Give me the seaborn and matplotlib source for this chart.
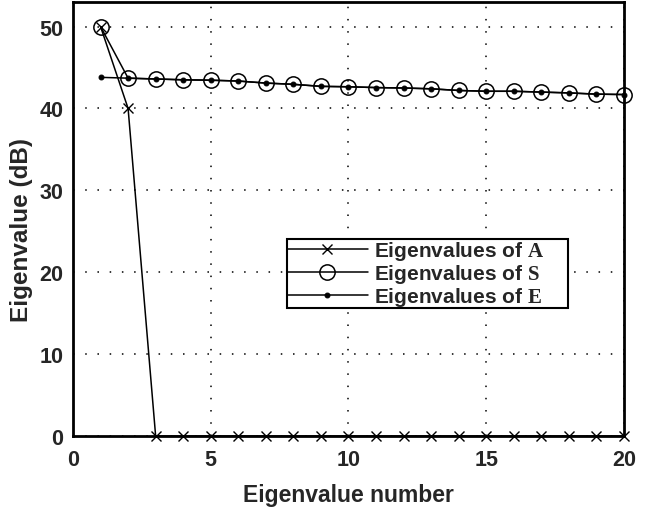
import numpy as np
import pandas as pd
import matplotlib
matplotlib.use("Agg")
import matplotlib.pyplot as plt
import seaborn as sns

x_vals = list(range(1, 21))
eig_A = [50, 40] + [0] * 18
eig_S = [50, 43.7, 43.6, 43.5, 43.45, 43.35, 43.1, 42.95, 42.7, 42.65,
         42.55, 42.5, 42.4, 42.2, 42.1, 42.1, 42.0, 41.9, 41.75, 41.7]
eig_E = [43.8, 43.7, 43.6, 43.5, 43.45, 43.35, 43.1, 42.95, 42.7, 42.65,
         42.55, 42.5, 42.4, 42.2, 42.1, 42.1, 42.0, 41.9, 41.75, 41.7]
labels = [r"Eigenvalues of $\mathbf{A}$     ", r"Eigenvalues of $\mathbf{S}$     ",
          r"Eigenvalues of $\mathbf{E}$     "]
xticks = [0, 5, 10, 15, 20]
yticks = [0, 10, 20, 30, 40, 50]

sns.set_style("white")
plt.rcParams["font.family"] = ["Liberation Sans", "DejaVu Sans"]
plt.rcParams["mathtext.fontset"] = "custom"
plt.rcParams["mathtext.bf"] = "Liberation Serif:bold"
plt.rcParams["mathtext.rm"] = "Liberation Serif"

fig = plt.figure(figsize=(6.56, 5.10), dpi=100)
ax = fig.add_axes([0.1113, 0.1431, 0.8397, 0.851])

df = pd.DataFrame({"x": x_vals, "A": eig_A, "S": eig_S, "E": eig_E})

sns.lineplot(data=df, x="x", y="A", ax=ax, color="black", lw=1.1,
             marker="x", markersize=7, markeredgewidth=1.0,
             markeredgecolor="black", label=labels[0], clip_on=False,
             zorder=5)
sns.lineplot(data=df, x="x", y="S", ax=ax, color="black", lw=1.1,
             marker="o", markersize=11, markerfacecolor="none",
             markeredgecolor="black", markeredgewidth=1.1, label=labels[1],
             clip_on=False, zorder=5)
sns.lineplot(data=df, x="x", y="E", ax=ax, color="black", lw=1.1,
             marker="o", markersize=3.5, markerfacecolor="black",
             markeredgecolor="black", label=labels[2], clip_on=False,
             zorder=5)

ax.set_xlim(0, 20)
ax.set_ylim(0, 53)
ax.set_xticks(xticks)
ax.set_yticks(yticks)
ax.set_xticklabels([str(t) for t in xticks], fontsize=15.5, fontweight="bold")
ax.set_yticklabels([str(t) for t in yticks], fontsize=15.5, fontweight="bold")
ax.tick_params(axis="x", direction="in", length=5, width=1.5, pad=9)
ax.tick_params(axis="y", direction="in", length=5, width=1.5, pad=7)
ax.grid(True, color="black", linestyle=(0, (1, 7)), linewidth=1.1)
for sp in ax.spines.values():
    sp.set_linewidth(2.0)
    sp.set_color("black")
    sp.set_visible(True)

ax.set_xlabel("Eigenvalue number", fontsize=16.5, fontweight="bold", labelpad=10)
ax.set_ylabel("Eigenvalue (dB)", fontsize=17.5, fontweight="bold")
ax.yaxis.set_label_coords(-0.0726, 0.477)

leg = ax.legend(loc="lower left", bbox_to_anchor=(0.388, 0.295),
                borderaxespad=0, frameon=True, fancybox=False,
                prop={"size": 15, "weight": "bold"}, handlelength=3.9,
                labelspacing=0.0, borderpad=0.0, handletextpad=0.3)
leg.get_frame().set_edgecolor("black")
leg.get_frame().set_linewidth(1.5)
leg.get_frame().set_alpha(1)

fig.savefig("out.png", dpi=100)
